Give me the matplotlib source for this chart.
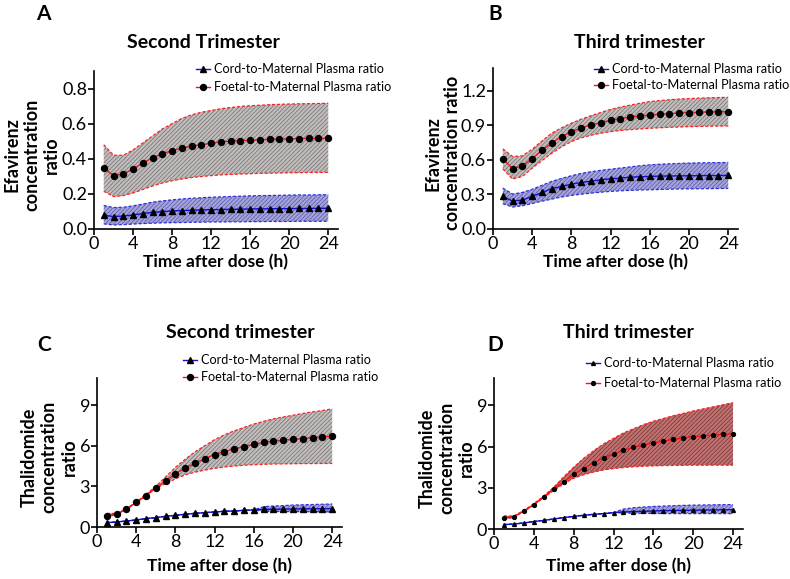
import matplotlib
matplotlib.use("Agg")
import matplotlib.pyplot as plt
from matplotlib.lines import Line2D

plt.rcParams["font.family"] = ["Lato", "DejaVu Sans"]
plt.rcParams["hatch.linewidth"] = 0.5

hours = list(range(1, 25))

# --- A: efavirenz, second trimester ---
a_foetal = [0.347, 0.304, 0.313, 0.342, 0.376, 0.405, 0.428, 0.447, 0.460, 0.472, 0.479, 0.489,
            0.496, 0.500, 0.504, 0.506, 0.508, 0.510, 0.512, 0.514, 0.515, 0.516, 0.516, 0.517]
a_foetal_hi = [0.48, 0.42, 0.42, 0.45, 0.49, 0.53, 0.57, 0.60, 0.63, 0.65, 0.665, 0.675,
               0.685, 0.692, 0.698, 0.702, 0.705, 0.708, 0.710, 0.712, 0.713, 0.714, 0.715, 0.716]
a_foetal_lo = [0.215, 0.185, 0.19, 0.205, 0.225, 0.245, 0.262, 0.275, 0.285, 0.293, 0.299, 0.304,
               0.308, 0.311, 0.313, 0.315, 0.317, 0.318, 0.319, 0.320, 0.321, 0.322, 0.322, 0.323]
a_cord = [0.078, 0.071, 0.074, 0.080, 0.088, 0.095, 0.099, 0.103, 0.105, 0.107, 0.109, 0.110,
          0.111, 0.112, 0.113, 0.114, 0.115, 0.115, 0.116, 0.116, 0.117, 0.117, 0.118, 0.118]
a_cord_hi = [0.134, 0.122, 0.124, 0.132, 0.142, 0.153, 0.160, 0.166, 0.171, 0.175, 0.178, 0.181,
             0.183, 0.185, 0.187, 0.189, 0.190, 0.191, 0.192, 0.193, 0.194, 0.194, 0.195, 0.195]
a_cord_lo = [0.029, 0.023, 0.025, 0.028, 0.031, 0.033, 0.035, 0.036, 0.037, 0.038, 0.039, 0.040,
             0.040, 0.041, 0.041, 0.042, 0.042, 0.043, 0.043, 0.043, 0.044, 0.044, 0.044, 0.044]

# --- B: efavirenz, third trimester ---
b_foetal = [0.61, 0.526, 0.547, 0.613, 0.685, 0.749, 0.804, 0.844, 0.879, 0.905, 0.925, 0.946,
            0.96, 0.972, 0.983, 0.992, 0.998, 1.003, 1.009, 1.012, 1.015, 1.018, 1.018, 1.021]
b_foetal_hi = [0.697, 0.63, 0.636, 0.694, 0.765, 0.833, 0.88, 0.92, 0.955, 0.985, 1.013, 1.04,
               1.06, 1.077, 1.093, 1.108, 1.117, 1.124, 1.13, 1.134, 1.138, 1.141, 1.143, 1.145]
b_foetal_lo = [0.523, 0.434, 0.457, 0.529, 0.595, 0.659, 0.715, 0.76, 0.793, 0.815, 0.833, 0.847,
               0.857, 0.864, 0.87, 0.876, 0.88, 0.884, 0.887, 0.89, 0.892, 0.894, 0.895, 0.896]
b_cord = [0.283, 0.243, 0.252, 0.283, 0.318, 0.35, 0.37, 0.39, 0.405, 0.416, 0.428, 0.437,
          0.442, 0.451, 0.454, 0.457, 0.46, 0.461, 0.462, 0.463, 0.464, 0.465, 0.465, 0.466]
b_cord_hi = [0.356, 0.304, 0.318, 0.345, 0.38, 0.414, 0.44, 0.463, 0.483, 0.498, 0.51, 0.52,
             0.53, 0.54, 0.55, 0.558, 0.563, 0.567, 0.57, 0.573, 0.575, 0.576, 0.577, 0.578]
b_cord_lo = [0.22, 0.191, 0.202, 0.222, 0.242, 0.26, 0.278, 0.292, 0.303, 0.312, 0.32, 0.327,
             0.332, 0.336, 0.339, 0.341, 0.344, 0.346, 0.348, 0.349, 0.35, 0.351, 0.352, 0.353]

# --- C: thalidomide, second trimester ---
c_foetal = [0.84, 0.96, 1.31, 1.82, 2.32, 2.91, 3.38, 3.94, 4.34, 4.71, 5.05, 5.35,
            5.57, 5.77, 5.94, 6.11, 6.24, 6.34, 6.41, 6.48, 6.53, 6.58, 6.63, 6.71]
c_foetal_hi = [1.0, 1.0, 1.35, 1.85, 2.4, 3.0, 3.7, 4.4, 5.0, 5.55, 6.0, 6.45,
               6.8, 7.1, 7.35, 7.6, 7.8, 7.98, 8.12, 8.25, 8.38, 8.5, 8.6, 8.72]
c_foetal_lo = [0.7, 0.95, 1.3, 1.8, 2.3, 2.85, 3.2, 3.55, 3.85, 4.05, 4.2, 4.33,
               4.43, 4.5, 4.56, 4.6, 4.63, 4.65, 4.66, 4.67, 4.68, 4.68, 4.69, 4.69]
c_cord = [0.32, 0.37, 0.44, 0.52, 0.62, 0.69, 0.79, 0.86, 0.94, 1.01, 1.06, 1.11,
          1.16, 1.18, 1.23, 1.26, 1.3, 1.31, 1.32, 1.33, 1.34, 1.35, 1.35, 1.36]
c_cord_hi = [0.32, 0.37, 0.44, 0.52, 0.62, 0.69, 0.79, 0.86, 0.94, 1.01, 1.06, 1.11,
             1.16, 1.18, 1.23, 1.26, 1.5, 1.55, 1.58, 1.62, 1.64, 1.66, 1.68, 1.70]
c_cord_lo = [0.32, 0.37, 0.44, 0.52, 0.62, 0.69, 0.79, 0.86, 0.94, 1.01, 1.06, 1.11,
             1.16, 1.18, 1.23, 1.26, 1.16, 1.15, 1.14, 1.14, 1.13, 1.13, 1.12, 1.12]

# --- D: thalidomide, third trimester ---
d_foetal = [0.8, 0.9, 1.31, 1.78, 2.34, 2.92, 3.43, 3.99, 4.4, 4.82, 5.18, 5.47,
            5.72, 5.96, 6.13, 6.28, 6.4, 6.52, 6.64, 6.72, 6.79, 6.84, 6.89, 6.93]
d_foetal_hi = [0.95, 0.95, 1.35, 1.85, 2.4, 3.05, 3.8, 4.5, 5.15, 5.7, 6.2, 6.6,
               7.0, 7.3, 7.6, 7.85, 8.05, 8.25, 8.42, 8.6, 8.75, 8.9, 9.05, 9.2]
d_foetal_lo = [0.7, 0.85, 1.28, 1.75, 2.3, 2.8, 3.3, 3.7, 3.95, 4.15, 4.3, 4.4,
               4.48, 4.53, 4.57, 4.6, 4.62, 4.63, 4.64, 4.65, 4.65, 4.65, 4.65, 4.65]
d_cord = [0.32, 0.36, 0.44, 0.54, 0.63, 0.73, 0.83, 0.92, 1.0, 1.07, 1.12, 1.19,
          1.24, 1.27, 1.29, 1.31, 1.34, 1.35, 1.36, 1.37, 1.38, 1.39, 1.4, 1.41]
d_cord_hi = [0.32, 0.36, 0.44, 0.54, 0.63, 0.73, 0.83, 0.92, 1.0, 1.07, 1.12, 1.19,
             1.45, 1.55, 1.6, 1.64, 1.67, 1.7, 1.72, 1.74, 1.75, 1.76, 1.77, 1.78]
d_cord_lo = [0.32, 0.36, 0.44, 0.54, 0.63, 0.73, 0.83, 0.92, 1.0, 1.07, 1.12, 1.19,
             1.17, 1.15, 1.14, 1.13, 1.13, 1.12, 1.12, 1.12, 1.12, 1.12, 1.12, 1.12]

cord_label = "Cord-to-Maternal Plasma ratio"
foetal_label = "Foetal-to-Maternal Plasma ratio"

W, H = 790, 579
fig = plt.figure(figsize=(W / 100, H / 100), dpi=100)


def px_axes(left, top, right, bottom):
    return fig.add_axes([left / W, 1 - bottom / H, (right - left) / W, (bottom - top) / H])


panels = [
    dict(box=(94, 71, 338, 229), ylim=0.9, yticks=[0, 0.2, 0.4, 0.6, 0.8], fmt="{:.1f}",
         ylabel="Efavirenz\nconcentration\nratio", ylab_x=-0.14,
         foetal=(a_foetal, a_foetal_lo, a_foetal_hi), cord=(a_cord, a_cord_lo, a_cord_hi),
         fcol="#c2bdbd", fhatch="#747070", ms=4.3, xlab_y=263,
         title="Second Trimester", title_xy=(203, 43), letter="A", letter_xy=(43, 14),
         leg_xy=(196, 70), leg_gap=19),
    dict(box=(493, 68, 738, 229), ylim=1.4, yticks=[0, 0.3, 0.6, 0.9, 1.2], fmt="{:.1f}",
         ylabel="Efavirenz\nconcentration ratio", ylab_x=-0.13,
         foetal=(b_foetal, b_foetal_lo, b_foetal_hi), cord=(b_cord, b_cord_lo, b_cord_hi),
         fcol="#c2bdbd", fhatch="#747070", ms=4.3, xlab_y=263,
         title="Third trimester", title_xy=(639, 43), letter="B", letter_xy=(495, 14),
         leg_xy=(594, 70), leg_gap=17),
    dict(box=(97, 378, 342, 527), ylim=11, yticks=[0, 3, 6, 9], fmt="{:.0f}",
         ylabel="Thalidomide\nconcentration\nratio", ylab_x=-0.08,
         foetal=(c_foetal, c_foetal_lo, c_foetal_hi), cord=(c_cord, c_cord_lo, c_cord_hi),
         fcol="#c2bdbd", fhatch="#747070", ms=4.3, xlab_y=567,
         title="Second trimester", title_xy=(240, 333), letter="C", letter_xy=(44, 345),
         leg_xy=(183, 361), leg_gap=18),
    dict(box=(494, 378, 743, 529), ylim=11, yticks=[0, 3, 6, 9], fmt="{:.0f}",
         ylabel="Thalidomide\nconcentration\nratio", ylab_x=-0.076,
         foetal=(d_foetal, d_foetal_lo, d_foetal_hi), cord=(d_cord, d_cord_lo, d_cord_hi),
         fcol="#bf7272", fhatch="#7a3030", ms=2.8, xlab_y=567,
         title="Third trimester", title_xy=(628, 333), letter="D", letter_xy=(495, 345),
         leg_xy=(586, 364), leg_gap=21),
]

for p in panels:
    left, top, right, bottom = p["box"]
    ax = px_axes(left, top, right, bottom)

    # cord band + line
    mean, lo, hi = p["cord"]
    ax.fill_between(hours, lo, hi, facecolor="#a4a4d8", edgecolor="#5656b0", hatch="////////",
                    linewidth=0, zorder=1)
    ax.plot(hours, hi, color="#3030e0", lw=0.9, ls=(0, (2.5, 1.5)), zorder=2)
    ax.plot(hours, lo, color="#3030e0", lw=0.9, ls=(0, (2.5, 1.5)), zorder=2)
    ax.plot(hours, mean, color="#1010d0", lw=1.0, marker="^", ms=p["ms"], mfc="black",
            mec="black", zorder=4)

    # foetal band + line
    mean, lo, hi = p["foetal"]
    ax.fill_between(hours, lo, hi, facecolor=p["fcol"], edgecolor=p["fhatch"], hatch="////////",
                    linewidth=0, zorder=1)
    ax.plot(hours, hi, color="#ff2020", lw=0.9, ls=(0, (2.5, 1.5)), zorder=2)
    ax.plot(hours, lo, color="#ff2020", lw=0.9, ls=(0, (2.5, 1.5)), zorder=2)
    ax.plot(hours, mean, color="#ff1010", lw=1.0, marker="o", ms=p["ms"], mfc="black",
            mec="black", zorder=4)

    ax.set_xlim(0, 25)
    ax.set_ylim(0, p["ylim"])
    ax.set_xticks([0, 4, 8, 12, 16, 20, 24])
    ax.set_yticks(p["yticks"])
    ax.set_yticklabels([p["fmt"].format(v) for v in p["yticks"]])
    for s in ("top", "right"):
        ax.spines[s].set_visible(False)
    for s in ("left", "bottom"):
        ax.spines[s].set_linewidth(1.2)
    ax.tick_params(direction="out", length=4, width=1.2, labelsize=13, pad=1)

    ax.set_ylabel(p["ylabel"], fontsize=13, fontweight="bold", linespacing=1.2)
    ax.yaxis.set_label_coords(p["ylab_x"], 0.47)
    ax.set_xlabel("Time after dose (h)", fontsize=12.5, fontweight="bold")
    ax.xaxis.set_label_coords(0.5, 1 - (p["xlab_y"] - 9 - top) / (bottom - top))

    fig.text(p["title_xy"][0] / W, 1 - p["title_xy"][1] / H, p["title"], fontsize=14,
             fontweight="bold", ha="center", va="center")
    fig.text(p["letter_xy"][0] / W, 1 - p["letter_xy"][1] / H, p["letter"], fontsize=15,
             fontweight="bold", ha="center", va="center")

    handles = [
        Line2D([], [], color="#1010d0", lw=1.0, marker="^", ms=p["ms"], mfc="black", mec="black"),
        Line2D([], [], color="#ff1010", lw=1.0, marker="o", ms=p["ms"], mfc="black", mec="black"),
    ]
    lx, ly = p["leg_xy"]
    fig.legend(handles, [cord_label, foetal_label], loc="upper left",
               bbox_to_anchor=(lx / W, 1 - (ly - 7) / H), frameon=False, fontsize=9.1,
               handlelength=1.1, handletextpad=0.3, borderpad=0, borderaxespad=0,
               labelspacing=(p["leg_gap"] - 13) / 12.6)

fig.savefig("out.png", dpi=100)
